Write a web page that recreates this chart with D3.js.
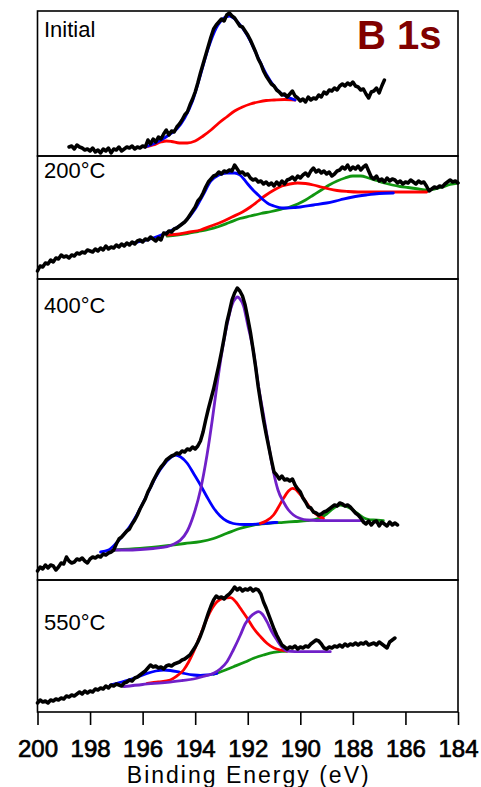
<!DOCTYPE html>
<html>
<head>
<meta charset="utf-8">
<script src="https://cdn.jsdelivr.net/npm/d3@7"></script>
<style>
  html, body { margin: 0; padding: 0; background: #fff; }
  svg { display: block; }
  text { font-family: "Liberation Sans", Arial, sans-serif; }
</style>
</head>
<body>
<svg id="chart" width="481" height="787"></svg>
<script>
// ---------------- DATA (binding energy eV, intensity a.u.) ----------------
const xTicks = [200, 198, 196, 194, 192, 190, 188, 186, 184];
const panelLabels = ["Initial", "200\u00B0C", "400\u00B0C", "550\u00B0C"];
const titleText = "B 1s";
const xAxisTitle = "Binding Energy (eV)";

// Panel "Initial"
const initialData = [[198.8,9],[198.7,10],[198.6,7],[198.5,11],[198.4,9],[198.3,8],[198.2,6],[198.1,7],[198.0,5],[197.9,8],[197.8,4],[197.7,6],[197.6,3],[197.5,7],[197.4,5],[197.3,8],[197.2,3],[197.1,7],[197.0,6],[196.9,9],[196.8,5],[196.7,7],[196.6,9],[196.5,8],[196.4,10],[196.3,7],[196.2,9],[196.1,8],[196.0,10],[195.9,9],[195.8,16],[195.7,12],[195.6,17],[195.5,14],[195.4,19],[195.3,17],[195.2,22],[195.1,26],[195.0,21],[194.9,25],[194.8,24],[194.7,29],[194.6,32],[194.5,36],[194.4,41],[194.3,44],[194.2,51],[194.1,57],[194.0,64],[193.9,73],[193.8,83],[193.7,92],[193.6,101],[193.5,110],[193.4,119],[193.3,127],[193.2,131],[193.1,134],[193.0,137],[192.9,135],[192.8,141],[192.7,143],[192.6,140],[192.5,138],[192.4,134],[192.3,130],[192.2,129],[192.1,125],[192.0,121],[191.9,116],[191.8,110],[191.7,104],[191.6,97],[191.5,92],[191.4,85],[191.3,80],[191.2,76],[191.1,72],[191.0,70],[190.9,66],[190.8,64],[190.7,61],[190.6,62],[190.5,59],[190.4,62],[190.3,65],[190.2,60],[190.1,58],[190.0,55],[189.9,57],[189.8,54],[189.7,59],[189.6,56],[189.5,58],[189.4,57],[189.3,61],[189.2,59],[189.1,64],[189.0,62],[188.9,66],[188.8,65],[188.7,68],[188.6,66],[188.5,70],[188.4,72],[188.3,70],[188.2,73],[188.1,71],[188.0,74],[187.9,70],[187.8,69],[187.7,66],[187.6,67],[187.5,62],[187.4,58],[187.3,64],[187.2,65],[187.1,68],[187.0,63],[186.9,70],[186.8,76]];
const initialBlue = [[195.9,9],[195.6,12],[195.3,16],[195.0,21],[194.7,27],[194.4,38],[194.1,55],[193.8,81],[193.5,108],[193.2,128],[192.9,138],[192.7,140],[192.5,137],[192.2,128],[191.9,115],[191.6,98],[191.3,82],[191.0,70],[190.7,62],[190.4,58],[190.2,56]];
const initialRed = [[195.9,9],[195.6,11],[195.3,14],[195.1,15],[194.9,14.5],[194.6,13],[194.3,13],[194.0,15],[193.7,20],[193.4,26],[193.1,33],[192.8,39],[192.5,45],[192.2,49],[191.9,52],[191.6,54],[191.3,55.5],[191.0,56],[190.6,56.5],[190.2,56]];

// Panel 200 C
const c200Data = [[200.0,8],[199.9,13],[199.8,12],[199.7,16],[199.6,15],[199.5,19],[199.4,17],[199.3,21],[199.2,20],[199.1,24],[199.0,22],[198.9,23],[198.8,21],[198.7,24],[198.6,23],[198.5,26],[198.4,25],[198.3,27],[198.2,26],[198.1,29],[198.0,28],[197.9,27],[197.8,30],[197.7,28],[197.6,31],[197.5,29],[197.4,33],[197.3,30],[197.2,32],[197.1,31],[197.0,34],[196.9,32],[196.8,35],[196.7,33],[196.6,36],[196.5,34],[196.4,37],[196.3,35],[196.2,38],[196.1,39],[196.0,37],[195.9,40],[195.8,39],[195.7,42],[195.6,40],[195.5,38],[195.4,41],[195.3,39],[195.2,46],[195.1,45],[195.0,48],[194.9,47],[194.8,50],[194.7,51],[194.6,53],[194.5,55],[194.4,57],[194.3,60],[194.2,64],[194.1,68],[194.0,72],[193.9,78],[193.8,81],[193.7,86],[193.6,92],[193.5,97],[193.4,100],[193.3,103],[193.2,104],[193.1,107],[193.0,105],[192.9,108],[192.8,107],[192.7,109],[192.6,108],[192.5,114],[192.4,110],[192.3,106],[192.2,107],[192.1,104],[192.0,105],[191.9,101],[191.8,99],[191.7,100],[191.6,97],[191.5,98],[191.4,95],[191.3,97],[191.2,94],[191.1,96],[191.0,93],[190.9,97],[190.8,94],[190.7,98],[190.6,95],[190.5,99],[190.4,100],[190.3,102],[190.2,99],[190.1,103],[190.0,101],[189.9,104],[189.8,106],[189.7,103],[189.6,108],[189.5,111],[189.4,107],[189.3,109],[189.2,106],[189.1,108],[189.0,105],[188.9,107],[188.8,103],[188.7,105],[188.6,108],[188.5,109],[188.4,112],[188.3,110],[188.2,114],[188.1,109],[188.0,112],[187.9,110],[187.8,113],[187.7,109],[187.6,112],[187.5,114],[187.4,108],[187.3,102],[187.2,100],[187.1,103],[187.0,98],[186.9,100],[186.8,97],[186.7,101],[186.6,98],[186.5,100],[186.4,99],[186.3,96],[186.2,98],[186.1,95],[186.0,97],[185.9,96],[185.8,99],[185.7,97],[185.6,95],[185.5,98],[185.4,96],[185.3,97],[185.2,93],[185.1,88],[185.0,90],[184.9,92],[184.8,91],[184.7,93],[184.6,92],[184.5,95],[184.4,97],[184.3,99],[184.2,97],[184.1,98],[184.0,96]];
const c200Blue = [[196.4,36],[196.0,38],[195.6,41],[195.2,45],[194.8,50],[194.4,57],[194.0,70],[193.7,84],[193.4,98],[193.1,104],[192.8,106],[192.5,106],[192.3,104],[192.15,100],[192.0,95],[191.8,89],[191.6,84],[191.4,79],[191.2,75],[191.0,73],[190.7,71],[190.5,71],[190.2,71.5],[190.0,72],[189.5,74],[189.0,76],[188.5,79],[188.0,82],[187.5,84],[187.0,85.5],[186.46,86]];
const c200Red = [[195.07,44],[194.6,45],[194.2,47],[193.8,49],[193.4,53],[193.0,57],[192.6,62],[192.2,67],[191.9,72],[191.6,78],[191.3,84],[191.0,89],[190.7,93],[190.4,95],[190.1,96],[189.8,95.5],[189.5,94],[189.2,92],[188.9,90],[188.6,88.5],[188.2,87.5],[187.8,87],[187.0,87],[186.0,87],[185.19,87]];
const c200Green = [[195.07,43],[194.7,44],[194.3,45.5],[193.9,47.5],[193.5,49.5],[193.1,52.5],[192.7,56.5],[192.3,60.5],[191.9,63],[191.5,65.5],[191.1,67.5],[190.7,70],[190.4,72],[190.1,75],[189.8,79],[189.5,84],[189.2,89],[188.9,94],[188.6,98],[188.3,101],[188.0,103],[187.7,103],[187.4,101],[187.1,98.5],[186.8,96],[186.5,94],[186.2,92.5],[185.9,91.5],[185.5,90],[185.2,89],[184.9,90],[184.6,92],[184.3,94.5],[184.0,96]];

// Panel 400 C
const c400Data = [[200.0,9],[199.9,13],[199.8,11],[199.7,15],[199.6,12],[199.5,15],[199.4,14],[199.3,10],[199.2,13],[199.1,17],[199.0,16],[198.9,23],[198.8,19],[198.7,17],[198.6,18],[198.5,21],[198.4,20],[198.3,22],[198.2,19],[198.1,17],[198.0,21],[197.9,23],[197.8,22],[197.7,24],[197.6,23],[197.5,26],[197.4,25],[197.3,27],[197.2,28],[197.1,30],[197.0,36],[196.9,41],[196.8,43],[196.7,46],[196.6,49],[196.5,51],[196.4,56],[196.3,60],[196.2,65],[196.1,71],[196.0,76],[195.9,81],[195.8,88],[195.7,93],[195.6,99],[195.5,104],[195.4,109],[195.3,113],[195.2,116],[195.1,120],[195.0,122],[194.9,124],[194.8,125],[194.7,127],[194.6,126],[194.5,129],[194.4,128],[194.3,131],[194.2,130],[194.1,133],[194.0,131],[193.9,134],[193.8,139],[193.7,148],[193.6,160],[193.5,171],[193.4,181],[193.3,191],[193.2,203],[193.1,215],[193.0,228],[192.9,242],[192.8,257],[192.7,268],[192.6,280],[192.5,287],[192.4,292],[192.3,289],[192.2,284],[192.1,275],[192.0,262],[191.9,248],[191.8,231],[191.7,213],[191.6,193],[191.5,176],[191.4,160],[191.3,146],[191.2,133],[191.1,120],[191.0,108],[190.9,105],[190.8,101],[190.7,104],[190.6,100],[190.5,101],[190.4,99],[190.3,101],[190.2,95],[190.1,91],[190.0,88],[189.9,82],[189.8,78],[189.7,73],[189.6,72],[189.5,68],[189.4,67],[189.3,65],[189.2,66],[189.1,68],[189.0,69],[188.9,71],[188.8,73],[188.7,75],[188.6,74],[188.5,77],[188.4,76],[188.3,74],[188.2,75],[188.1,73],[188.0,70],[187.9,67],[187.8,65],[187.7,62],[187.6,58],[187.5,56],[187.4,59],[187.3,55],[187.2,58],[187.1,59],[187.0,54],[186.9,58],[186.8,56],[186.7,54],[186.6,58],[186.5,55],[186.4,57],[186.3,55]];
const c400Blue = [[197.6,28],[197.3,30],[197.0,37],[196.7,46],[196.4,57],[196.1,71],[195.8,87],[195.5,103],[195.2,115],[194.95,122],[194.75,125],[194.55,123],[194.31,117],[194.05,106],[193.8,95],[193.55,83],[193.3,72],[193.05,64],[192.8,59],[192.55,56.5],[192.3,55.7],[191.9,55.5],[191.6,56],[191.2,57],[190.89,57.7]];
const c400Purple = [[197.16,30],[196.6,30],[196.09,30.5],[195.6,31.5],[195.07,33.3],[194.8,36],[194.56,40],[194.3,49],[194.06,65],[193.8,90],[193.55,125],[193.35,160],[193.17,195],[193.0,225],[192.79,255],[192.6,275],[192.45,282],[192.39,283],[192.3,281],[192.16,274],[192.0,255],[191.78,228],[191.6,195],[191.4,165],[191.2,134],[191.02,108],[190.85,90],[190.64,78],[190.45,70],[190.26,65],[190.0,61.5],[189.75,60],[189.0,59.3],[188.0,59.3],[187.6,59.3]];
const c400Red = [[191.52,56.7],[191.3,59],[191.02,65],[190.85,72],[190.64,81.7],[190.45,89],[190.3,91.7],[190.2,91],[190.05,87],[189.88,81.7],[189.7,75],[189.5,68.3],[189.3,64],[189.12,61.7]];
const c400Green = [[197.1,30],[196.1,31.5],[195.07,34.3],[194.4,36.5],[193.8,38.3],[193.3,41.5],[192.79,46.7],[192.3,51.5],[191.78,55],[191.2,56.7],[190.64,57.7],[190.2,58.5],[189.75,59.3],[189.45,60.5],[189.24,62.3],[189.0,66],[188.74,71.7],[188.48,75],[188.3,74],[188.1,71.7],[187.85,67],[187.6,62.3],[187.4,60.5],[187.22,60],[186.84,59.3]];

// Panel 550 C
const c550Data = [[200.0,9],[199.9,12],[199.8,10],[199.7,11],[199.6,9],[199.5,12],[199.4,11],[199.3,13],[199.2,12],[199.1,14],[199.0,13],[198.9,16],[198.8,15],[198.7,17],[198.6,16],[198.5,18],[198.4,20],[198.3,18],[198.2,21],[198.1,19],[198.0,21],[197.9,20],[197.8,23],[197.7,22],[197.6,24],[197.5,23],[197.4,26],[197.3,24],[197.2,27],[197.1,26],[197.0,28],[196.9,27],[196.8,26],[196.7,29],[196.6,30],[196.5,32],[196.4,31],[196.3,34],[196.2,35],[196.1,37],[196.0,39],[195.9,41],[195.8,44],[195.7,47],[195.6,45],[195.5,46],[195.4,44],[195.3,45],[195.2,43],[195.1,46],[195.0,47],[194.9,46],[194.8,48],[194.7,49],[194.6,50],[194.5,52],[194.4,53],[194.3,55],[194.2,57],[194.1,61],[194.0,65],[193.9,70],[193.8,76],[193.7,83],[193.6,91],[193.5,99],[193.4,106],[193.3,112],[193.2,116],[193.1,114],[193.0,115],[192.9,113],[192.8,116],[192.7,118],[192.6,121],[192.5,125],[192.4,122],[192.3,124],[192.2,121],[192.1,123],[192.0,122],[191.9,124],[191.8,121],[191.7,123],[191.6,122],[191.5,118],[191.4,110],[191.3,104],[191.2,97],[191.1,90],[191.0,83],[190.9,77],[190.8,72],[190.7,67],[190.6,65],[190.5,63],[190.4,65],[190.3,64],[190.2,66],[190.1,63],[190.0,65],[189.9,64],[189.8,66],[189.7,65],[189.6,68],[189.5,70],[189.4,72],[189.3,71],[189.2,68],[189.1,64],[189.0,63],[188.9,65],[188.8,64],[188.7,66],[188.6,65],[188.5,67],[188.4,65],[188.3,68],[188.2,66],[188.1,68],[188.0,67],[187.9,69],[187.8,67],[187.7,69],[187.6,68],[187.5,70],[187.4,67],[187.3,68],[187.2,69],[187.1,67],[187.0,70],[186.9,68],[186.8,66],[186.7,64],[186.6,70],[186.5,72],[186.4,74]];
const c550Red = [[195.83,28.7],[195.4,30],[194.95,32],[194.7,36],[194.44,42],[194.25,50],[194.06,60.3],[193.8,77],[193.55,93.7],[193.35,104],[193.17,110.3],[192.9,114],[192.66,114.3],[192.45,110],[192.28,103.7],[192.0,93],[191.78,83.7],[191.5,75],[191.27,68.7],[191.0,64],[190.77,62],[190.51,61]];
const c550Blue = [[197.23,27],[196.8,30],[196.3,34],[195.83,38.7],[195.5,41],[195.2,42],[194.95,41.5],[194.69,40.3],[194.4,38.5],[194.06,37],[193.8,36.5],[193.55,37],[193.17,38.7]];
const c550Purple = [[196.72,25.3],[196.0,27.5],[195.07,29.7],[194.5,31.5],[194.06,33],[193.7,35.5],[193.3,38.7],[193.05,43],[192.79,50.3],[192.55,62],[192.28,77],[192.1,88],[191.9,95.3],[191.72,99],[191.58,100.3],[191.45,98],[191.27,90.3],[191.1,81],[190.89,72],[190.7,65],[190.51,61],[190.2,60.4],[190.0,60.3],[189.5,60.3],[188.86,60.3]];
const c550Green = [[193.3,37.7],[193.0,40.5],[192.54,45.3],[192.1,50],[191.78,53.7],[191.4,57],[191.02,59.7],[190.7,60.7],[190.51,61]];

// ---------------- LAYOUT ----------------
const svg = d3.select("#chart");
const left = 37.5, right = 458;
const panelBounds = [[11, 156], [156, 279], [279, 580], [580, 712]];
const labelBaselines = [37, 178, 313, 630];
const colors = { data: "#000000", blue: "#0000ff", red: "#ff0000", green: "#119611", purple: "#7020c8" };

const x = d3.scaleLinear().domain([200, 184]).range([left, right]);

const panels = [
  { data: initialData, fits: [[initialRed, "red"], [initialBlue, "blue"]] },
  { data: c200Data, fits: [[c200Green, "green"], [c200Red, "red"], [c200Blue, "blue"]] },
  { data: c400Data, fits: [[c400Green, "green"], [c400Blue, "blue"], [c400Red, "red"], [c400Purple, "purple"]] },
  { data: c550Data, fits: [[c550Green, "green"], [c550Blue, "blue"], [c550Red, "red"], [c550Purple, "purple"]] }
];

panels.forEach((p, i) => {
  const [top, bottom] = panelBounds[i];
  const y = d3.scaleLinear().domain([0, bottom - top]).range([bottom, top]);
  const g = svg.append("g");
  const fitLine = d3.line().x(d => x(d[0])).y(d => y(d[1])).curve(d3.curveMonotoneX);
  const dataLine = d3.line().x(d => x(d[0])).y(d => y(d[1]));

  p.fits.forEach(([arr, c]) => {
    g.append("path").datum(arr).attr("d", fitLine)
      .attr("fill", "none").attr("stroke", colors[c]).attr("stroke-width", 2.8)
      .attr("stroke-linejoin", "round").attr("stroke-linecap", "round");
  });
  g.append("path").datum(p.data).attr("d", dataLine)
    .attr("fill", "none").attr("stroke", colors.data).attr("stroke-width", 3.5)
    .attr("stroke-linejoin", "round").attr("stroke-linecap", "round");

  g.append("text").attr("x", 44).attr("y", labelBaselines[i])
    .attr("font-size", 22).attr("fill", "#000").text(panelLabels[i]);

  svg.append("rect").attr("x", left).attr("y", top)
    .attr("width", right - left).attr("height", bottom - top)
    .attr("fill", "none").attr("stroke", "#000").attr("stroke-width", 1.6);
});

// Title
svg.append("text").attr("x", 357).attr("y", 49)
  .attr("font-size", 40).attr("font-weight", "bold").attr("fill", "#800000")
  .text(titleText);

// X axis
const axis = d3.axisBottom(x).tickValues(xTicks).tickFormat(d3.format("d"))
  .tickSize(13).tickSizeOuter(0).tickPadding(14.5);
const ax = svg.append("g").attr("transform", `translate(0,712)`).call(axis);
ax.select(".domain").remove();
ax.selectAll(".tick line").attr("stroke", "#000").attr("stroke-width", 1.6);
ax.selectAll(".tick text").attr("font-size", 24).attr("fill", "#000")
  .attr("stroke", "#000").attr("stroke-width", 0.7)
  .attr("font-family", "'Liberation Sans', Arial, sans-serif");

svg.append("text").attr("x", (left + right) / 2 + 1).attr("y", 782.5)
  .attr("text-anchor", "middle").attr("font-size", 23).attr("letter-spacing", 2)
  .attr("fill", "#000")
  .text(xAxisTitle);
</script>
</body>
</html>
